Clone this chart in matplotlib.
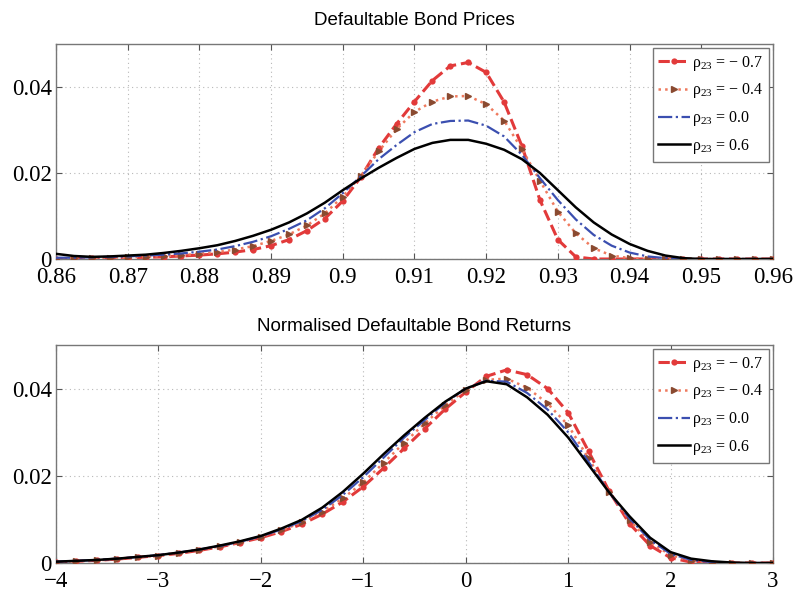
import numpy as np
import matplotlib
matplotlib.use('Agg')
import matplotlib.pyplot as plt

plt.rcParams['mathtext.fontset'] = 'custom'
plt.rcParams['mathtext.rm'] = 'Liberation Serif'
plt.rcParams['mathtext.it'] = 'Liberation Serif:italic'

# top panel: bond price grid and densities
price = [0.86, 0.8625, 0.865, 0.8675, 0.87, 0.8725, 0.875, 0.8775, 0.88, 0.8825,
         0.885, 0.8875, 0.89, 0.8925, 0.895, 0.8975, 0.9, 0.9025, 0.905, 0.9075,
         0.91, 0.9125, 0.915, 0.9175, 0.92, 0.9225, 0.925, 0.9275, 0.93, 0.9325,
         0.935, 0.9375, 0.94, 0.9425, 0.945, 0.9475, 0.95, 0.9525, 0.955, 0.9575, 0.96]

price_m07 = [0.0001, 0.0001, 0.0002, 0.0002, 0.0003, 0.0004, 0.0005, 0.0007, 0.0009, 0.0012,
             0.0016, 0.0022, 0.0031, 0.0045, 0.0066, 0.0094, 0.0135, 0.0190, 0.0258, 0.0314,
             0.0366, 0.0415, 0.0449, 0.0457, 0.0434, 0.0365, 0.0262, 0.0137, 0.0045, 0.0005,
             0.0, 0.0, 0.0, 0.0, 0.0, 0.0, 0.0, 0.0, 0.0, 0.0, 0.0]
price_m04 = [0.0001, 0.0002, 0.0002, 0.0003, 0.0004, 0.0005, 0.0007, 0.0009, 0.0012, 0.0016,
             0.0022, 0.0030, 0.0042, 0.0057, 0.0078, 0.0106, 0.0145, 0.0193, 0.0250, 0.0302,
             0.0342, 0.0366, 0.0378, 0.0379, 0.0360, 0.0322, 0.0255, 0.0182, 0.0110, 0.0060,
             0.0025, 0.0008, 0.0002, 0.0, 0.0, 0.0, 0.0, 0.0, 0.0, 0.0, 0.0]
price_00 = [0.0003, 0.0003, 0.0004, 0.0005, 0.0006, 0.0008, 0.0010, 0.0013, 0.0017, 0.0022,
            0.0030, 0.0040, 0.0053, 0.0070, 0.0090, 0.0118, 0.0153, 0.0192, 0.0232, 0.0265,
            0.0295, 0.0314, 0.0321, 0.0322, 0.0310, 0.0285, 0.0242, 0.0188, 0.0137, 0.0092,
            0.0056, 0.0031, 0.0015, 0.0006, 0.0002, 0.0, 0.0, 0.0, 0.0, 0.0, 0.0]
price_06 = [0.0012, 0.0007, 0.0005, 0.0006, 0.0008, 0.0010, 0.0014, 0.0019, 0.0025, 0.0032,
            0.0042, 0.0054, 0.0068, 0.0085, 0.0106, 0.0131, 0.0160, 0.0187, 0.0212, 0.0235,
            0.0256, 0.0270, 0.0277, 0.0277, 0.0268, 0.0254, 0.0232, 0.0200, 0.0160, 0.0120,
            0.0085, 0.0057, 0.0035, 0.0019, 0.0008, 0.0002, 0.0, 0.0, 0.0, 0.0, 0.0]

# bottom panel: normalised returns grid and densities
ret = [-4.0, -3.8, -3.6, -3.4, -3.2, -3.0, -2.8, -2.6, -2.4, -2.2, -2.0, -1.8,
       -1.6, -1.4, -1.2, -1.0, -0.8, -0.6, -0.4, -0.2, 0.0, 0.2, 0.4, 0.6,
       0.8, 1.0, 1.2, 1.4, 1.6, 1.8, 2.0, 2.2, 2.4, 2.6, 2.8, 3.0]

ret_m07 = [0.0002, 0.0004, 0.0006, 0.0009, 0.0013, 0.0017, 0.0022, 0.0029, 0.0037, 0.0047, 0.0058, 0.0072,
           0.0089, 0.0112, 0.0140, 0.0175, 0.0218, 0.0263, 0.0308, 0.0353, 0.0392, 0.0428, 0.0443, 0.0432,
           0.0400, 0.0345, 0.0256, 0.0165, 0.0090, 0.0040, 0.0012, 0.0002, 0.0, 0.0, 0.0, 0.0]
ret_m04 = [0.0002, 0.0004, 0.0006, 0.0009, 0.0013, 0.0017, 0.0023, 0.0030, 0.0038, 0.0048, 0.0060, 0.0075,
           0.0093, 0.0118, 0.0148, 0.0185, 0.0230, 0.0276, 0.0320, 0.0362, 0.0397, 0.0420, 0.0423, 0.0402,
           0.0366, 0.0316, 0.0240, 0.0162, 0.0098, 0.0048, 0.0018, 0.0005, 0.0001, 0.0, 0.0, 0.0]
ret_00 = [0.0003, 0.0005, 0.0007, 0.0010, 0.0014, 0.0018, 0.0024, 0.0031, 0.0039, 0.0049, 0.0061, 0.0077,
          0.0096, 0.0122, 0.0156, 0.0197, 0.0242, 0.0288, 0.0328, 0.0368, 0.0400, 0.0418, 0.0416, 0.0390,
          0.0352, 0.0300, 0.0232, 0.0162, 0.0102, 0.0053, 0.0021, 0.0007, 0.0002, 0.0, 0.0, 0.0]
ret_06 = [0.0003, 0.0005, 0.0007, 0.0010, 0.0014, 0.0018, 0.0024, 0.0031, 0.0040, 0.0050, 0.0062, 0.0079,
          0.0099, 0.0127, 0.0163, 0.0205, 0.0250, 0.0293, 0.0333, 0.0370, 0.0400, 0.0417, 0.0410, 0.0380,
          0.0340, 0.0288, 0.0225, 0.0162, 0.0107, 0.0058, 0.0025, 0.0010, 0.0004, 0.0001, 0.0, 0.0]

labels = ['ρ$_{23}$ = − 0.7', 'ρ$_{23}$ = − 0.4', 'ρ$_{23}$ = 0.0', 'ρ$_{23}$ = 0.6']

price_ticks = [0.86, 0.87, 0.88, 0.89, 0.9, 0.91, 0.92, 0.93, 0.94, 0.95, 0.96]
price_ticklabels = ['0.86', '0.87', '0.88', '0.89', '0.9', '0.91', '0.92', '0.93', '0.94', '0.95', '0.96']
ret_ticks = [-4, -3, -2, -1, 0, 1, 2, 3]
y_ticks = [0, 0.02, 0.04]
y_ticklabels = ['0', '0.02', '0.04']


def draw(ax, x, series, title, xlim, xticks, xticklabels, title_pad):
    s1, s2, s3, s4 = series
    ax.plot(x, s1, color='#e23a3a', linestyle='--', linewidth=2.2, marker='o',
            markersize=4.5, markeredgewidth=0, label=labels[0], zorder=3)
    ax.plot(x, s2, color='#ef7a5e', linestyle=':', linewidth=1.8, marker='>',
            markersize=5, markerfacecolor='#8a4a30', markeredgecolor='#8a4a30',
            label=labels[1], zorder=3)
    ax.plot(x, s3, color='#3b4fb0', linestyle='-.', linewidth=1.6, label=labels[2], zorder=3)
    ax.plot(x, s4, color='black', linestyle='-', linewidth=1.8, label=labels[3], zorder=4)

    ax.set_xlim(xlim)
    ax.set_ylim(0, 0.05)
    ax.set_xticks(xticks)
    ax.set_xticklabels(xticklabels)
    ax.set_yticks(y_ticks)
    ax.set_yticklabels(y_ticklabels)
    ax.tick_params(direction='in', top=True, right=True, length=4, color='#555555',
                   labelsize=16.5)
    ax.tick_params(axis='x', pad=6)
    ax.tick_params(axis='y', pad=3)
    for t in ax.get_xticklabels() + ax.get_yticklabels():
        t.set_fontfamily('Liberation Serif')
    ax.grid(True, linestyle=(0, (1, 3)), color='#b8b8b8', linewidth=0.8)
    for sp in ax.spines.values():
        sp.set_color('#777777')
        sp.set_linewidth(1.0)
    ax.set_title(title, fontsize=13.5, family='Liberation Sans', pad=title_pad)
    leg = ax.legend(loc='upper right', prop={'family': 'Liberation Serif', 'size': 11.5},
                    fancybox=False, edgecolor='#777777', framealpha=1,
                    handlelength=2.0, handletextpad=0.1, borderaxespad=0.25,
                    labelspacing=0.55, borderpad=0.35)
    leg.get_frame().set_linewidth(1.0)


fig = plt.figure(figsize=(7.95, 5.92), dpi=100)
ax1 = fig.add_axes([0.0704, 0.5625, 0.9019, 0.3632])
ax2 = fig.add_axes([0.0704, 0.049, 0.9019, 0.3682])

draw(ax1, price, (price_m07, price_m04, price_00, price_06), 'Defaultable Bond Prices',
     (0.86, 0.96), price_ticks, price_ticklabels, 14)
draw(ax2, ret, (ret_m07, ret_m04, ret_00, ret_06), 'Normalised Defaultable Bond Returns',
     (-4, 3), ret_ticks, [str(t).replace('-', '\u2212') for t in ret_ticks], 10)

fig.savefig('out.png', dpi=100)
